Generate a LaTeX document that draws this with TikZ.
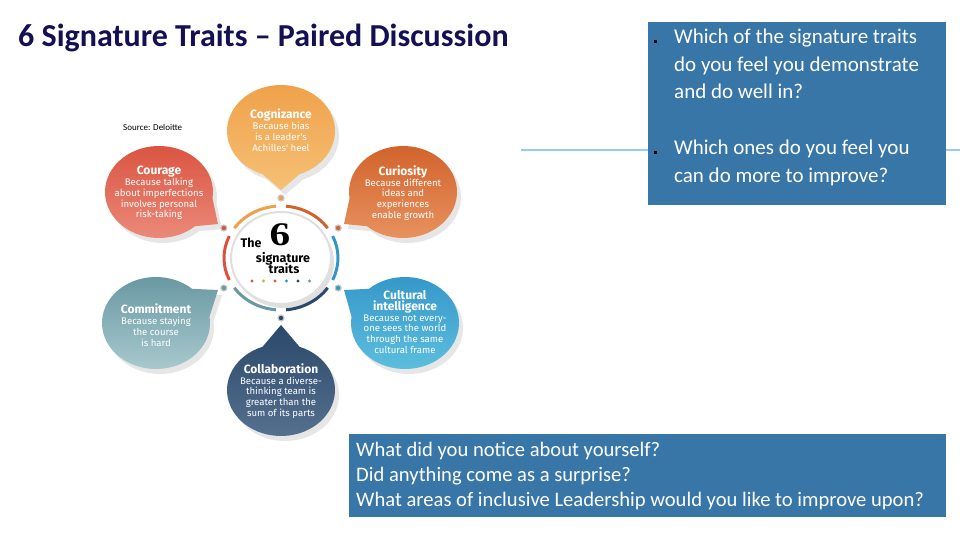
\documentclass[tikz,border=0pt]{standalone}
\usepackage{fontspec}
\setmainfont{Carlito}
\newfontfamily\traitfont{Fira Sans}
\newfontfamily\sixfont{Liberation Serif}
\usetikzlibrary{calc,positioning,shadows,shapes.geometric}

\definecolor{titlenavy}{RGB}{20,16,84}
\definecolor{boxblue}{RGB}{56,118,167}
\definecolor{linkblue}{RGB}{150,205,242}
\definecolor{cogA}{RGB}{239,160,72}  \definecolor{cogB}{RGB}{246,192,118}
\definecolor{couA}{RGB}{217,82,62}   \definecolor{couB}{RGB}{236,140,124}
\definecolor{curA}{RGB}{209,98,42}   \definecolor{curB}{RGB}{232,146,96}
\definecolor{comA}{RGB}{104,152,162} \definecolor{comB}{RGB}{170,202,207}
\definecolor{culA}{RGB}{52,150,200}  \definecolor{culB}{RGB}{94,192,222}
\definecolor{colA}{RGB}{42,72,106}   \definecolor{colB}{RGB}{88,114,144}

\tikzset{
    bubble/.style={drop shadow={opacity=0.2,shadow xshift=4pt,shadow yshift=-5pt}},
    traittext/.style={align=center,text=white,inner sep=0pt,
        font=\traitfont\fontsize{9.6}{10.8}\selectfont},
    hub/.style={ellipse,fill=white,draw=gray!25,line width=2pt,
        minimum width=100pt,minimum height=92pt,
        drop shadow={opacity=0.25,shadow xshift=3pt,shadow yshift=-4pt}},
    hubtext/.style={inner sep=0pt,font=\traitfont\bfseries\fontsize{12.5}{13}\selectfont},
    ringarc/.style={line width=3pt},
    linkdot/.style={circle,draw=gray!45,line width=1.2pt,inner sep=0pt,minimum size=6pt},
    qbox/.style={fill=boxblue,inner sep=0pt},
    qtext/.style={text=white,align=left,inner sep=0pt},
    bulletsq/.style={fill=black,inner sep=0pt,minimum size=3pt},
    linkline/.style={linkblue,line width=1.5pt}
}
\newcommand{\traithead}[1]{{\fontsize{12}{12}\selectfont\bfseries #1}}

\begin{document}
\begin{tikzpicture}[x=1pt,y=-1pt]
    \useasboundingbox (0,0) rectangle (960,540);

    % title and source
    \node[anchor=base west,inner sep=0pt,text=titlenavy,
        font=\fontsize{32}{38}\selectfont\bfseries] (title) at (18,47)
        {6 Signature Traits – Paired Discussion};
    \node[anchor=base west,inner sep=0pt,font=\fontsize{9}{10}\selectfont] (src) at (123,131)
        {Source: Deloitte};

    % speech bubbles
    \foreach \nm/\cx/\cy/\ang/\tx/\ty/\ca/\cb in {
        cog/281/131/90/281/190/cogA/cogB,
        cou/159/192/28/218/224/couA/couB,
        cur/403/192/152/344/224/curA/curB,
        com/156/323/332/218/290/comA/comB,
        cul/405/323/208/344/290/culA/culB,
        col/281/390/270/281/325/colA/colB}{
        \coordinate (\nm-tip) at (\tx,\ty);
        \path[bubble,top color=\ca,bottom color=\cb]
            (\nm-tip) -- ($(\cx,\cy)+(\ang+20:54 and 46)$)
            arc[start angle=\ang+20,delta angle=320,x radius=54,y radius=46] -- cycle;
    }

    \node[traittext] (cog) at (281,130) {\traithead{Cognizance}\\Because bias\\is a leader's\\Achilles' heel};
    \node[traittext] (cou) at (159,193) {\traithead{Courage}\\Because talking\\about imperfections\\involves personal\\risk-taking};
    \node[traittext] (cur) at (403,193) {\traithead{Curiosity}\\Because different\\ideas and\\experiences\\enable growth};
    \node[traittext] (com) at (156,325) {\traithead{Commitment}\\Because staying\\the course\\is hard};
    \node[traittext] (cul) at (405,322) {\traithead{Cultural}\\\traithead{intelligence}\\Because not every-\\one sees the world\\through the same\\cultural frame};
    \node[traittext] (col) at (281,391) {\traithead{Collaboration}\\Because a diverse-\\thinking team is\\greater than the\\sum of its parts};

    % hub
    \node[hub] (core) at (281,258) {};
    \foreach \a/\c in {215/cogA,275/curA,335/culA,35/colA,95/comA,155/couA}{
        \draw[ringarc,\c] ($(core.center)+(\a:57 and 52)$)
            arc[start angle=\a,delta angle=50,x radius=57,y radius=52];
    }
    \foreach \nm/\a/\c in {cog/270/cogA,cur/330/curA,cul/30/culA,col/90/colA,com/150/comA,cou/210/couA}{
        \node[linkdot,fill=\c] (\nm-dot) at ($(core.center)+(\a:66 and 60)$) {};
    }
    \node[hubtext,anchor=base] (the) at (251,247) {The};
    \node[inner sep=0pt,anchor=base,font=\sixfont\bfseries\fontsize{33}{33}\selectfont] (six) at (280,245) {\scalebox{1.25}[1]{6}};
    \node[hubtext,anchor=base] (sig) at (283,262) {signature};
    \node[hubtext,anchor=base] (trt) at (284,273) {traits};
    \foreach \c [count=\i] in {couA,cogA,curA,culA,colA,comA}{
        \fill[\c] (240.5+11.5*\i,281) circle[radius=1.6];
    }

    % question box
    \coordinate (lineL) at (521,150);
    \coordinate (lineR) at (960,150);
    \draw[linkline] (lineL) -- (lineR);
    \node[qbox,anchor=north west,minimum width=298pt,minimum height=183pt] (qbox) at (648,22) {};
    \node[bulletsq] (b1) at (655,42) {};
    \node[bulletsq] (b2) at (655,153) {};
    \node[qtext,anchor=north west,font=\fontsize{21}{27.5}\selectfont] (q1) at (674,29)
        {Which of the signature traits\\do you feel you demonstrate\\and do well in?};
    \node[qtext,anchor=north west,font=\fontsize{21}{27.5}\selectfont] (q2) at (674,140)
        {Which ones do you feel you\\can do more to improve?};

    % reflection box
    \node[qbox,anchor=north west,minimum width=597pt,minimum height=83pt] (rbox) at (349,434) {};
    \node[qtext,anchor=north west,font=\fontsize{20.6}{25}\selectfont] (r1) at (356,442)
        {What did you notice about yourself?\\Did anything come as a surprise?\\What areas of inclusive Leadership would you like to improve upon?};
\end{tikzpicture}
\end{document}
